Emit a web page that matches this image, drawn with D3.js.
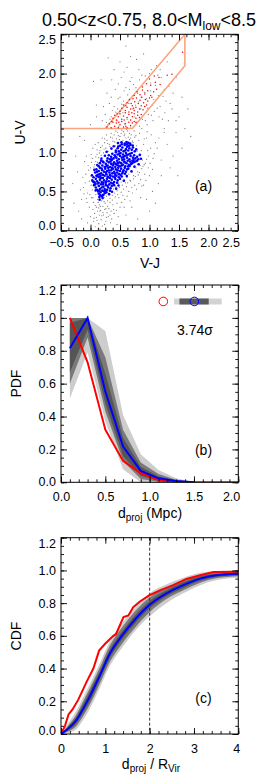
<!DOCTYPE html>
<html>
<head>
<meta charset="utf-8">
<script src="https://cdn.jsdelivr.net/npm/d3@7"></script>
<style>
body { margin: 0; background: #fff; }
text { font-family: "Liberation Sans", Arial, Helvetica, sans-serif; fill: #000; }
</style>
</head>
<body>
<div id="chart"></div>
<script>
// ---- panel (a): UVJ diagram [V-J, U-V]
const GRAY_PTS = [
  [-0.12,0.55],[-0.08,0.72],[-0.05,0.48],[-0.02,0.63],[0.00,0.80],[0.02,0.42],[0.03,0.92],[0.05,0.36],[0.06,0.75],[0.08,0.50],
  [0.09,0.88],[0.10,0.30],[0.11,0.97],[0.12,0.40],[0.14,0.93],[0.15,0.33],[0.16,1.02],[0.17,0.26],[0.18,0.96],[0.19,0.38],
  [0.20,1.08],[0.21,0.31],[0.22,0.99],[0.23,0.42],[0.24,1.12],[0.25,0.35],[0.26,1.05],[0.27,0.44],[0.28,1.15],[0.29,0.38],
  [0.30,1.01],[0.31,0.47],[0.32,1.10],[0.33,0.41],[0.34,1.19],[0.35,0.50],[0.36,1.05],[0.37,0.45],[0.38,1.14],[0.39,0.53],
  [0.40,1.22],[0.41,0.48],[0.42,1.08],[0.43,0.56],[0.44,1.17],[0.45,0.51],[0.46,1.25],[0.47,0.60],[0.48,1.12],[0.49,0.55],
  [0.50,1.20],[0.52,0.62],[0.53,1.28],[0.54,0.58],[0.55,1.15],[0.57,0.65],[0.58,1.23],[0.59,0.61],[0.60,1.18],[0.62,0.68],
  [0.63,1.27],[0.65,0.72],[0.66,1.16],[0.67,0.64],[0.69,1.22],[0.70,0.76],[0.72,1.12],[0.73,0.70],[0.75,1.19],[0.77,0.80],
  [0.78,1.08],[0.80,0.75],[0.82,1.15],[0.84,0.83],[0.86,1.02],[0.88,0.90],[0.90,1.10],[0.93,0.86],[0.95,1.18],[0.98,0.95],
  [1.02,1.05],[1.06,0.92],[1.10,1.12],[-0.15,0.40],[-0.10,0.88],[0.01,0.58],[0.04,1.05],[0.07,0.22],[0.13,1.12],[0.35,0.25],
  [0.45,0.35],[0.55,0.45],[0.65,0.50],[0.75,0.58],[0.85,0.65],[0.92,0.72],[0.98,0.80],[0.27,1.22],[0.20,1.18],[0.08,1.10],
  [0.58,0.40],[0.70,0.55],[0.82,0.60],[0.90,0.58],[1.00,0.70],[1.05,0.78],[0.48,0.42],[0.38,0.33],[0.26,0.28],[0.15,0.20],
  [-0.02,0.30],[0.05,0.12],[0.10,0.17],[0.14,0.09],[0.18,0.14],[0.22,0.20],[0.26,0.12],[0.30,0.18],[0.34,0.10],[0.20,0.06],
  [0.12,0.25],[0.28,0.23],[0.40,0.22],[0.00,0.18],[0.08,0.05],[0.36,0.15],[0.44,0.26],[0.16,0.02],[0.24,0.08],[-0.05,0.10],
  [0.50,0.30],[0.30,1.35],[0.35,1.45],[0.40,1.58],[0.45,1.40],[0.50,1.70],[0.55,1.50],[0.60,1.82],[0.65,1.62],[0.70,1.95],
  [0.75,1.45],[0.80,1.75],[0.85,1.55],[0.90,1.88],[0.95,1.68],[1.00,2.00],[1.05,1.60],[1.10,1.85],[1.15,1.72],[1.20,1.95],
  [1.25,1.80],[0.38,1.30],[0.48,1.33],[0.58,1.36],[0.68,1.32],[0.78,1.38],[0.88,1.42],[0.98,1.48],[1.08,1.52],[1.18,1.58],
  [1.28,1.65],[0.25,1.48],[0.32,1.62],[0.42,1.80],[0.52,1.95],[0.62,2.08],[0.72,1.72],[0.82,2.05],[0.92,1.58],[1.02,1.78],
  [1.12,2.10],[0.20,1.40],[0.28,1.75],[0.36,1.92],[0.46,1.55],[0.56,1.65],[0.66,1.80],[0.76,1.60],[0.86,1.70],[0.96,1.35],
  [1.06,1.40],[1.16,1.45],[1.26,1.50],[1.35,1.62],[1.40,1.75],[0.15,1.30],[0.10,1.45],[0.50,2.15],[0.40,2.05],[0.78,2.18],
  [1.32,1.40],[-0.30,0.60],[-0.25,0.95],[-0.20,0.25],[-0.18,1.20],[-0.28,0.35],[1.20,0.90],[1.30,1.10],[1.35,0.80],[1.45,1.25],
  [1.55,1.05],[1.50,1.45],[1.60,1.30],[1.25,1.30],[1.15,0.60],[1.40,0.95],[0.95,0.40],[1.05,0.50],[0.70,0.30],[0.85,0.42],
  [0.60,0.20],[-0.22,0.75],[0.00,1.35],[-0.10,1.15],[0.10,1.60],[0.05,1.90],[0.30,2.20],[0.60,2.35],[0.90,2.25],[1.30,2.15],
  [1.45,1.95],[1.55,1.70],[1.65,1.55],[1.70,1.20],[1.20,0.70],[1.10,0.35],[0.80,0.15],[0.45,0.08],[-0.15,0.15],[1.00,0.25],
  [1.48,0.70],
  [-0.07,0.41],[0.04,0.27],[0.13,0.36],[0.01,0.69],[0.07,0.84],[-0.03,0.77],[0.17,0.31],[0.24,0.27],[0.33,0.36],[0.42,0.43],
  [0.52,0.49],[0.61,0.56],[0.68,0.63],[0.76,0.69],[0.83,0.74],[0.87,0.79],[0.91,0.84],[0.95,0.91],[0.85,0.97],[0.79,1.01],
  [0.71,1.14],[0.64,1.19],[0.57,1.21],[0.49,1.16],[0.41,1.13],[0.33,1.07],[0.26,1.00],[0.19,0.93],[0.12,0.87],[0.06,0.81],
  [0.03,0.52],[0.09,0.46],[-0.01,0.46],[0.14,0.29],[0.21,0.23],[0.29,0.31],[0.37,0.39],[0.46,0.46],[0.56,0.53],[0.63,0.61],
  [0.73,0.66],[0.81,0.71],[0.89,0.82],[0.97,1.02],[0.91,1.17],[0.83,1.24],[0.74,1.27],[0.66,1.24],[0.56,1.26],[0.47,1.21],
  [0.37,1.18],[0.29,1.11],[0.23,1.04],[0.15,0.99],[0.09,0.94],[0.02,0.87],[-0.04,0.83],[-0.09,0.61],[-0.11,0.47],[-0.06,0.36],
  [0.11,0.13],[0.19,0.19],[0.27,0.17],[0.31,0.28],[0.23,0.37],[0.16,0.25],[0.08,0.32],[0.04,0.42],[0.39,0.27],[0.53,0.36],
  [0.62,0.44],[0.71,0.48],[0.78,0.53],[0.87,0.57],[0.94,0.64],[1.01,0.86],[1.08,0.98],[1.13,1.05],[1.16,1.18],[1.03,1.22],
  [0.96,1.26],[0.87,1.30],[0.77,1.21],[0.68,1.18],[0.61,1.29],[0.52,1.24],[0.43,1.27],[0.35,1.24],[0.24,1.17],[0.17,1.06],
  [0.11,1.03],[0.01,0.97],[-0.07,0.95],[-0.13,0.68],[-0.17,0.52],[0.06,0.16],[0.33,0.20],[0.47,0.18],[0.57,0.30],[0.67,0.38],
  [0.33,1.42],[0.43,1.51],[0.53,1.61],[0.63,1.73],[0.73,1.86],[0.83,1.92],[0.93,1.97],[1.03,2.05],[0.57,1.78],[0.67,1.90],
  [0.47,1.68],[0.37,1.53],[0.27,1.38],[0.83,1.33],[0.93,1.40],[1.03,1.47],[1.13,1.56],[1.23,1.71],[1.33,1.84],[1.22,1.42],
  [0.62,1.42],[0.72,1.55],[0.82,1.64],[0.92,1.76],[1.02,1.88],[1.14,1.98],[0.97,1.56],[1.07,1.67],[0.77,1.82],[0.87,1.98],
  [0.47,1.87],[0.57,2.02],[0.35,1.70],[0.22,1.58],[0.18,1.92],[0.68,2.22],[1.18,2.05],[1.38,1.55],[1.45,1.40],[1.25,1.25]
];
const BLUE_PTS = [
  [0.15,0.43],[0.19,0.44],[0.22,0.46],[0.14,0.47],[0.25,0.48],[0.17,0.49],[0.21,0.45],[0.27,0.49],[0.13,0.50],[0.23,0.50],
  [0.06,0.58],[0.09,0.55],[0.11,0.52],[0.14,0.57],[0.16,0.53],[0.18,0.59],[0.20,0.51],[0.22,0.56],[0.24,0.53],[0.26,0.58],
  [0.28,0.52],[0.30,0.55],[0.32,0.59],[0.34,0.54],[0.36,0.57],[0.38,0.60],[0.40,0.58],[0.12,0.60],[0.19,0.55],[0.25,0.51],
  [0.29,0.57],[0.08,0.59],[0.15,0.51],[0.33,0.51],[0.21,0.59],
  [0.03,0.64],[0.05,0.68],[0.07,0.61],[0.09,0.66],[0.11,0.63],[0.12,0.69],[0.14,0.61],[0.16,0.65],[0.17,0.70],[0.19,0.62],
  [0.21,0.67],[0.23,0.64],[0.24,0.70],[0.26,0.61],[0.28,0.66],[0.29,0.69],[0.31,0.63],[0.33,0.67],[0.35,0.61],[0.36,0.65],
  [0.38,0.69],[0.40,0.62],[0.42,0.66],[0.44,0.70],[0.46,0.64],[0.48,0.68],[0.50,0.66],[0.53,0.69],[0.10,0.70],[0.18,0.67],
  [0.27,0.63],[0.34,0.70],[0.41,0.68],[0.06,0.62],[0.22,0.61],[0.30,0.68],[0.45,0.61],[0.15,0.68],
  [0.08,0.74],[0.10,0.78],[0.12,0.71],[0.14,0.76],[0.16,0.80],[0.18,0.73],[0.20,0.77],[0.21,0.71],[0.23,0.75],[0.25,0.79],
  [0.27,0.72],[0.28,0.76],[0.30,0.80],[0.32,0.74],[0.33,0.71],[0.35,0.77],[0.37,0.73],[0.38,0.79],[0.40,0.75],[0.42,0.71],
  [0.43,0.78],[0.45,0.74],[0.47,0.80],[0.48,0.72],[0.50,0.76],[0.52,0.79],[0.54,0.73],[0.56,0.77],[0.58,0.80],[0.60,0.75],
  [0.62,0.78],[0.64,0.79],[0.11,0.75],[0.19,0.79],[0.26,0.74],[0.31,0.77],[0.36,0.80],[0.41,0.73],[0.46,0.77],[0.51,0.71],
  [0.55,0.75],[0.15,0.72],
  [0.14,0.82],[0.16,0.86],[0.18,0.89],[0.20,0.83],[0.22,0.87],[0.24,0.81],[0.26,0.85],[0.28,0.89],[0.29,0.83],[0.31,0.87],
  [0.33,0.81],[0.35,0.85],[0.36,0.90],[0.38,0.83],[0.40,0.87],[0.42,0.81],[0.43,0.85],[0.45,0.89],[0.47,0.83],[0.49,0.87],
  [0.50,0.82],[0.52,0.86],[0.54,0.90],[0.55,0.84],[0.57,0.88],[0.59,0.82],[0.61,0.86],[0.63,0.89],[0.65,0.84],[0.67,0.88],
  [0.69,0.85],[0.71,0.89],[0.73,0.87],[0.76,0.88],[0.79,0.89],[0.21,0.88],[0.27,0.82],[0.34,0.88],[0.39,0.85],[0.46,0.86],
  [0.53,0.83],[0.58,0.87],[0.64,0.82],[0.70,0.86],[0.44,0.84],
  [0.29,0.92],[0.31,0.96],[0.33,0.91],[0.35,0.94],[0.37,0.98],[0.39,0.92],[0.41,0.96],[0.43,1.00],[0.44,0.93],[0.46,0.97],
  [0.48,0.91],[0.50,0.95],[0.51,0.99],[0.53,0.93],[0.55,0.97],[0.57,0.91],[0.58,0.95],[0.60,0.99],[0.62,0.93],[0.64,0.97],
  [0.66,0.91],[0.68,0.95],[0.70,0.99],[0.72,0.93],[0.74,0.96],[0.76,0.92],[0.79,0.94],[0.81,0.91],[0.36,0.91],[0.42,0.94],
  [0.49,0.98],[0.56,0.94],[0.61,0.96],[0.67,0.98],[0.73,0.90],
  [0.43,1.02],[0.46,1.05],[0.48,1.01],[0.50,1.08],[0.52,1.03],[0.54,1.06],[0.56,1.01],[0.58,1.09],[0.60,1.04],[0.62,1.07],
  [0.64,1.02],[0.66,1.05],[0.68,1.09],[0.70,1.03],[0.72,1.06],[0.75,1.01],[0.53,1.10],[0.59,1.02],[0.65,1.08],[0.47,1.07],
  [0.58,1.11],[0.61,1.13],[0.64,1.12],[0.67,1.11],[0.62,1.10],
  [0.09,0.515],[0.165,0.455],[0.045,0.625],[0.025,0.705],[0.065,0.775],[0.115,0.835],[0.185,0.915],[0.245,0.955],[0.275,1.005],[0.355,1.045],
  [0.395,1.075],[0.465,1.115],[0.525,1.125],[0.715,1.085],[0.775,1.035],[0.835,0.965],[0.855,0.915],[0.815,0.845],[0.745,0.815],[0.695,0.755],
  [0.615,0.695],[0.565,0.635],[0.475,0.575],[0.435,0.535],[0.365,0.495],[0.315,0.465],[0.205,0.415],[0.155,0.395],[0.585,0.725],[0.665,0.825]
];
const RED_PTS = [
  [0.28,1.32],[0.32,1.36],[0.35,1.31],[0.38,1.38],[0.41,1.33],[0.44,1.37],[0.47,1.31],[0.50,1.35],[0.53,1.39],[0.56,1.32],
  [0.59,1.36],[0.62,1.31],[0.65,1.38],[0.68,1.34],[0.71,1.37],[0.74,1.39],[0.77,1.38],[0.36,1.39],[0.48,1.38],[0.60,1.33],
  [0.38,1.43],[0.41,1.47],[0.44,1.41],[0.47,1.45],[0.50,1.49],[0.53,1.42],[0.56,1.46],[0.59,1.50],[0.62,1.44],[0.65,1.48],
  [0.68,1.41],[0.71,1.45],[0.74,1.49],[0.77,1.43],[0.80,1.47],[0.83,1.44],[0.86,1.48],[0.45,1.49],[0.57,1.41],[0.70,1.50],
  [0.50,1.52],[0.53,1.56],[0.56,1.60],[0.59,1.53],[0.62,1.57],[0.65,1.51],[0.68,1.55],[0.71,1.59],[0.74,1.53],[0.77,1.57],
  [0.80,1.51],[0.83,1.55],[0.86,1.59],[0.89,1.54],[0.92,1.58],[0.95,1.60],[0.60,1.59],[0.73,1.56],
  [0.62,1.63],[0.66,1.67],[0.69,1.62],[0.72,1.68],[0.75,1.64],[0.78,1.69],[0.81,1.62],[0.84,1.66],[0.87,1.70],[0.90,1.63],
  [0.93,1.67],[0.97,1.65],[1.00,1.69],[1.04,1.70],
  [0.74,1.72],[0.79,1.77],[0.84,1.73],[0.88,1.79],[0.92,1.74],[0.97,1.78],[1.02,1.72],[1.07,1.77],[1.12,1.80],
  [0.88,1.83],[0.95,1.87],[1.02,1.85],[1.10,1.89],[1.18,1.86],
  [1.00,1.93],[1.08,1.97],[1.16,1.95],[1.30,1.98],[1.38,1.99],[1.56,2.27]
];
const UVJ_BOX = [[-0.5,1.3],[0.25,1.3],[1.6,2.5],[1.6,2.1],[0.71,1.3],[0.25,1.3]];

// ---- panel (b): PDF of projected distance
const PDF_BIN = [0.1,0.3,0.5,0.7,0.9,1.1,1.3,1.5,1.7,1.9,2.1];
const PDF_RED = [1.0,0.73,0.32,0.13,0.055,0.014,0.003,0,0,0,0];
const PDF_BLUE = [0.815,1.0,0.553,0.217,0.069,0.024,0.008,0];
const PDF_LIGHT_LO = [0.51,0.79,0.37,0.08,0.0,0.0,0.0,0];
const PDF_LIGHT_HI = [1.0,1.0,0.92,0.41,0.17,0.075,0.025,0];
const PDF_MID_LO = [0.60,0.88,0.43,0.13,0.02,0.003,0,0];
const PDF_MID_HI = [1.0,1.0,0.76,0.32,0.12,0.05,0.015,0];
const PDF_DARK_LO = [0.67,0.93,0.48,0.16,0.04,0.01,0.002,0];
const PDF_DARK_HI = [0.97,1.0,0.66,0.27,0.095,0.035,0.01,0];
// significance marker: observed (red), random mean (blue) and spread
const SIG_Y = 1.1;
const SIG_RED = 1.154;
const SIG_BLUE = 1.504;
const SIG_OUTER = [1.275,1.813];
const SIG_INNER = [1.336,1.666];
const SIG_TEXT = "3.74σ";

// ---- panel (c): CDF of d_proj / R_vir
const CDF_RED = [[0,0],[0.09,0.05],[0.17,0.12],[0.26,0.15],[0.39,0.21],[0.58,0.32],[0.73,0.40],[0.86,0.51],
  [0.99,0.55],[1.18,0.60],[1.24,0.61],[1.41,0.715],[1.52,0.725],[1.63,0.775],[1.78,0.81],[1.99,0.847],
  [2.23,0.878],[2.53,0.91],[2.83,0.948],[3.14,0.97],[3.44,0.99],[4.0,0.992]];
const CDF_X = [0,0.15,0.35,0.5,0.65,0.88,1.1,1.4,1.67,2.0,2.38,2.76,3.14,3.5,4.0];
const CDF_BLUE = [0,0.03,0.086,0.155,0.23,0.36,0.49,0.61,0.70,0.79,0.86,0.91,0.95,0.97,0.98];
const CDF_LIGHT_LO = [0,0.005,0.03,0.085,0.155,0.285,0.415,0.535,0.63,0.72,0.80,0.86,0.91,0.94,0.955];
const CDF_LIGHT_HI = [0,0.06,0.145,0.225,0.305,0.435,0.565,0.685,0.77,0.86,0.915,0.955,0.985,0.995,1.0];
const CDF_MID_LO = [0,0.013,0.05,0.11,0.18,0.31,0.44,0.56,0.65,0.745,0.825,0.878,0.925,0.952,0.965];
const CDF_MID_HI = [0,0.048,0.12,0.20,0.28,0.41,0.54,0.66,0.75,0.835,0.895,0.94,0.972,0.987,0.993];
const CDF_DARK_LO = [0,0.02,0.066,0.13,0.20,0.335,0.465,0.585,0.675,0.768,0.842,0.893,0.937,0.96,0.971];
const CDF_DARK_HI = [0,0.04,0.106,0.18,0.26,0.385,0.515,0.635,0.725,0.812,0.878,0.927,0.963,0.98,0.989];
const CDF_VLINE = 2;

// ---- tick values
const A_X_TICKS = [-0.5,0,0.5,1,1.5,2,2.5];
const A_Y_TICKS = [0,0.5,1,1.5,2,2.5];
const B_X_TICKS = [0,0.5,1,1.5,2];
const BC_Y_TICKS = [0,0.2,0.4,0.6,0.8,1.0,1.2];
const C_X_TICKS = [0,1,2,3,4];

// ---- layout
const F_WIDTH = 260, F_HEIGHT = 780;
const PANEL_A = {left: 61, right: 238, top: 34.3, bottom: 230.7};
const PANEL_B = {left: 61, right: 238.3, top: 285, bottom: 482.3};
const PANEL_C = {left: 61, right: 238.3, top: 537.7, bottom: 734};
const BAND_COLORS = ["#cdcdcd", "#7a7a7a", "#555555"];

const FRAME = d3.select("#chart").append("svg")
  .attr("width", F_WIDTH).attr("height", F_HEIGHT);

const xA = d3.scaleLinear().domain([-0.5, 2.5]).range([PANEL_A.left, PANEL_A.right]);
const yA = d3.scaleLinear().domain([0, 2.5]).range([PANEL_A.bottom, PANEL_A.top]);
const xB = d3.scaleLinear().domain([0, 2]).range([PANEL_B.left, PANEL_B.right]);
const yB = d3.scaleLinear().domain([0, 1.2]).range([PANEL_B.bottom, PANEL_B.top]);
const xC = d3.scaleLinear().domain([0, 4]).range([PANEL_C.left, PANEL_C.right]);
const yC = d3.scaleLinear().domain([0, 1.2]).range([PANEL_C.bottom, PANEL_C.top]);

function clip(id, p) {
  FRAME.append("clipPath").attr("id", id).append("rect")
    .attr("x", p.left).attr("y", p.top)
    .attr("width", p.right - p.left).attr("height", p.bottom - p.top);
  return FRAME.append("g").attr("clip-path", `url(#${id})`);
}

// axes with inward ticks on all four sides
function axes(p, xs, ys, o) {
  const g = FRAME.append("g");
  const none = () => "";
  const ax = (a, vals, size, fmt, pad) =>
    a.tickValues(vals).tickSize(size).tickSizeOuter(0).tickPadding(pad).tickFormat(fmt);

  const xl = g.append("g").attr("transform", `translate(0,${p.bottom})`)
    .call(ax(d3.axisBottom(xs), o.xMajor, -6, o.xFmt, o.xPad));
  g.append("g").attr("transform", `translate(0,${p.bottom})`)
    .call(ax(d3.axisBottom(xs), o.xMinor, -3, none, 0));
  g.append("g").attr("transform", `translate(0,${p.top})`)
    .call(ax(d3.axisTop(xs), o.xMajor, -6, none, 0));
  g.append("g").attr("transform", `translate(0,${p.top})`)
    .call(ax(d3.axisTop(xs), o.xMinor, -3, none, 0));
  const yl = g.append("g").attr("transform", `translate(${p.left},0)`)
    .call(ax(d3.axisLeft(ys), o.yMajor, -6, o.yFmt, 5));
  g.append("g").attr("transform", `translate(${p.left},0)`)
    .call(ax(d3.axisLeft(ys), o.yMinor, -3, none, 0));
  g.append("g").attr("transform", `translate(${p.right},0)`)
    .call(ax(d3.axisRight(ys), o.yMajor, -6, none, 0));
  g.append("g").attr("transform", `translate(${p.right},0)`)
    .call(ax(d3.axisRight(ys), o.yMinor, -3, none, 0));

  g.selectAll(".domain").remove();
  g.selectAll(".tick line").attr("stroke", "#000").attr("stroke-width", 0.9);
  g.selectAll("text").style("font-size", "12.5px");

  // keep end labels inside the frame like the original
  const xMax = d3.max(o.xMajor);
  xl.selectAll(".tick text").filter(d => d === xMax)
    .attr("text-anchor", "end").attr("x", 1.5);
  const yMin = d3.min(o.yMajor), yMax = d3.max(o.yMajor);
  yl.selectAll(".tick text").filter(d => d === yMax).attr("y", o.yEnd[0]);
  yl.selectAll(".tick text").filter(d => d === yMin).attr("y", o.yEnd[1]);

  FRAME.append("rect")
    .attr("x", p.left).attr("y", p.top)
    .attr("width", p.right - p.left).attr("height", p.bottom - p.top)
    .attr("fill", "none").attr("stroke", "#000").attr("stroke-width", 1);
}

function label(x, y, size, parts, rotate) {
  const t = FRAME.append("text")
    .attr("text-anchor", "middle")
    .attr("transform", `translate(${x},${y})` + (rotate ? " rotate(-90)" : ""))
    .style("font-size", size + "px");
  parts.forEach(pt => {
    const s = t.append("tspan").text(pt.t);
    if (pt.sub) s.attr("dy", pt.dy).style("font-size", pt.sub + "px");
    else if (pt.dy) s.attr("dy", pt.dy);
  });
  return t;
}

// ================= panel (a)
const gA = clip("clipA", PANEL_A);
gA.selectAll(".gp").data(GRAY_PTS).join("circle")
  .attr("cx", d => xA(d[0])).attr("cy", d => yA(d[1])).attr("r", 0.6)
  .attr("fill", "#555").attr("opacity", 0.8);
gA.append("path").datum(UVJ_BOX)
  .attr("d", d3.line().x(d => xA(d[0])).y(d => yA(d[1])))
  .attr("fill", "none").attr("stroke", "#fba57f").attr("stroke-width", 1.6);
gA.selectAll(".bp").data(BLUE_PTS).join("circle")
  .attr("cx", d => xA(d[0])).attr("cy", d => yA(d[1])).attr("r", 1.3)
  .attr("fill", "#0000ff");
gA.selectAll(".rp").data(RED_PTS).join("circle")
  .attr("cx", d => xA(d[0])).attr("cy", d => yA(d[1])).attr("r", 0.75)
  .attr("fill", "#ff0000");

axes(PANEL_A, xA, yA, {
  xMajor: A_X_TICKS, xMinor: d3.range(-0.5, 2.501, 0.125), xFmt: d3.format(".1f"), xPad: 7.5,
  yMajor: A_Y_TICKS, yMinor: d3.range(0, 2.501, 0.1), yFmt: d3.format(".1f"), yEnd: [5, -5]
});

// ================= panel (b)
const gB = clip("clipB", PANEL_B);
const bandB = (lo, hi, color) => gB.append("path")
  .datum(d3.range(lo.length))
  .attr("d", d3.area().x(i => xB(PDF_BIN[i])).y0(i => yB(lo[i])).y1(i => yB(hi[i])))
  .attr("fill", color);
bandB(PDF_LIGHT_LO, PDF_LIGHT_HI, BAND_COLORS[0]);
bandB(PDF_MID_LO, PDF_MID_HI, BAND_COLORS[1]);
bandB(PDF_DARK_LO, PDF_DARK_HI, BAND_COLORS[2]);

gB.append("path").datum(PDF_RED)
  .attr("d", d3.line().x((d, i) => xB(PDF_BIN[i])).y(d => yB(d)))
  .attr("fill", "none").attr("stroke", "#ff0000").attr("stroke-width", 2);
gB.append("path").datum(PDF_BLUE)
  .attr("d", d3.line().x((d, i) => xB(PDF_BIN[i])).y(d => yB(d)))
  .attr("fill", "none").attr("stroke", "#0000ff").attr("stroke-width", 2);

// significance marker
gB.append("line").attr("x1", xB(SIG_OUTER[0])).attr("x2", xB(SIG_OUTER[1]))
  .attr("y1", yB(SIG_Y)).attr("y2", yB(SIG_Y))
  .attr("stroke", "#d3d3d3").attr("stroke-width", 6);
gB.append("line").attr("x1", xB(SIG_INNER[0])).attr("x2", xB(SIG_INNER[1]))
  .attr("y1", yB(SIG_Y)).attr("y2", yB(SIG_Y))
  .attr("stroke", "#5a5a5a").attr("stroke-width", 6);
gB.append("circle").attr("cx", xB(SIG_RED)).attr("cy", yB(SIG_Y)).attr("r", 4.3)
  .attr("fill", "none").attr("stroke", "#ff0000").attr("stroke-width", 1);
gB.append("circle").attr("cx", xB(SIG_BLUE)).attr("cy", yB(SIG_Y)).attr("r", 4.3)
  .attr("fill", "none").attr("stroke", "#0000ff").attr("stroke-width", 1);

axes(PANEL_B, xB, yB, {
  xMajor: B_X_TICKS, xMinor: d3.range(0, 2.001, 0.1), xFmt: d3.format(".1f"), xPad: 9.5,
  yMajor: BC_Y_TICKS, yMinor: d3.range(0, 1.201, 0.05), yFmt: d3.format(".1f"), yEnd: [5, -1]
});

// ================= panel (c)
const gC = clip("clipC", PANEL_C);
const bandC = (lo, hi, color) => gC.append("path")
  .datum(d3.range(lo.length))
  .attr("d", d3.area().curve(d3.curveMonotoneX)
    .x(i => xC(CDF_X[i])).y0(i => yC(lo[i])).y1(i => yC(hi[i])))
  .attr("fill", color);
bandC(CDF_LIGHT_LO, CDF_LIGHT_HI, BAND_COLORS[0]);
bandC(CDF_MID_LO, CDF_MID_HI, BAND_COLORS[1]);
bandC(CDF_DARK_LO, CDF_DARK_HI, BAND_COLORS[2]);

gC.append("line").attr("x1", xC(CDF_VLINE)).attr("x2", xC(CDF_VLINE))
  .attr("y1", PANEL_C.top).attr("y2", PANEL_C.bottom)
  .attr("stroke", "#333").attr("stroke-width", 1).attr("stroke-dasharray", "3,2");

gC.append("path").datum(CDF_RED)
  .attr("d", d3.line().x(d => xC(d[0])).y(d => yC(d[1])))
  .attr("fill", "none").attr("stroke", "#ff0000").attr("stroke-width", 2);
gC.append("path").datum(CDF_BLUE)
  .attr("d", d3.line().curve(d3.curveMonotoneX).x((d, i) => xC(CDF_X[i])).y(d => yC(d)))
  .attr("fill", "none").attr("stroke", "#0000ff").attr("stroke-width", 2);

axes(PANEL_C, xC, yC, {
  xMajor: C_X_TICKS, xMinor: d3.range(0, 4.001, 0.2), xFmt: d3.format("d"), xPad: 10.5,
  yMajor: BC_Y_TICKS, yMinor: d3.range(0, 1.201, 0.05), yFmt: d3.format(".1f"), yEnd: [5.5, -4]
});

// ================= text
label(149, 26, 18, [{t: "0.50<z<0.75, 8.0<M"}, {t: "low", sub: 12, dy: 4}, {t: "<8.5", dy: -4}]);
label(25, 132.5, 14, [{t: "U-V"}], true);
label(150, 268, 14, [{t: "V-J"}]);
label(21, 383.6, 14, [{t: "PDF"}], true);
label(150, 517.5, 14, [{t: "d"}, {t: "proj", sub: 10, dy: 3}, {t: " (Mpc)", dy: -3}]);
label(21, 636, 14, [{t: "CDF"}], true);
label(151, 769, 14, [{t: "d"}, {t: "proj", sub: 10, dy: 3}, {t: " / R", dy: -3}, {t: "Vir", sub: 10, dy: 3}]);

label(203.5, 190.7, 14, [{t: "(a)"}]);
label(203.5, 454.5, 14, [{t: "(b)"}]);
label(203.5, 702.5, 14, [{t: "(c)"}]);
label(195, 334.5, 14, [{t: SIG_TEXT}]);
</script>
</body>
</html>
